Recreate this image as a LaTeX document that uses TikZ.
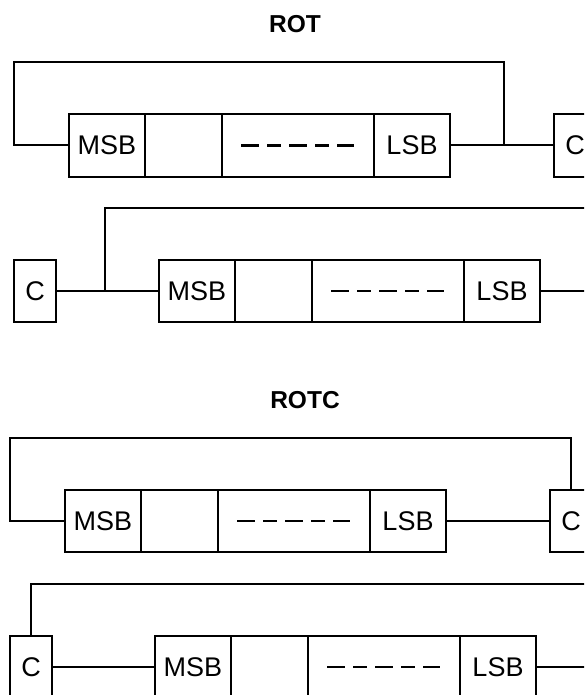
\documentclass[tikz,border=0pt]{standalone}
\usepackage{fontspec}
\setmainfont{Liberation Sans}
\begin{document}
\begin{tikzpicture}[x=1pt,y=-1pt,
  wire/.style={line width=2pt},
  cell/.style={draw, line width=2pt, minimum height=62pt, inner sep=0pt, outer sep=0pt, anchor=west, font=\fontsize{27}{30}\selectfont},
  cbox/.style={draw, line width=2pt, minimum width=42pt, minimum height=62pt, inner sep=0pt, outer sep=0pt, font=\fontsize{27}{30}\selectfont},
  title/.style={font=\bfseries\fontsize{24.5}{28}\selectfont},
  dashes/.style={line width=2.5pt, dash pattern=on 18pt off 8pt on 14pt off 8pt on 18pt off 8pt on 14pt off 8pt on 17pt}]
\useasboundingbox (0,0) rectangle (584,695);
\clip (0,0) rectangle (584,695);
\fill[white] (0,0) rectangle (584,695);

% ---------- ROT ----------
\node[title] (t1) at (295,24) {ROT};

% row 1
\node[cell, minimum width=76pt] (r1a) at (69,145.5) {MSB};
\node[cell, minimum width=77pt] (r1b) at (r1a.east) {};
\node[cell, minimum width=152pt] (r1c) at (r1b.east) {};
\node[cell, minimum width=76pt] (r1d) at (r1c.east) {LSB};
\node[cbox] (c1) at (575,145.5) {C};
\draw[dashes] ([xshift=19pt]r1c.west) -- ([xshift=-17pt]r1c.east);
\coordinate (j1) at (504,145.5);
\coordinate (l1) at (14,62);
\draw[wire] (r1d.east) -- (c1.west);
\draw[wire] (j1) |- (l1) |- (r1a.west);

% row 2
\node[cbox] (c2) at (35,291) {C};
\node[cell, minimum width=76pt] (r2a) at (159,291) {MSB};
\node[cell, minimum width=77pt] (r2b) at (r2a.east) {};
\node[cell, minimum width=152pt] (r2c) at (r2b.east) {};
\node[cell, minimum width=76pt] (r2d) at (r2c.east) {LSB};
\draw[dashes] ([xshift=19pt]r2c.west) -- ([xshift=-17pt]r2c.east);
\coordinate (j2) at (105,291);
\coordinate (t2) at (600,208);
\coordinate (e2) at (600,291);
\draw[wire] (c2.east) -- (r2a.west);
\draw[wire] (j2) |- (t2);
\draw[wire] (r2d.east) -- (e2);

% ---------- ROTC ----------
\node[title] (t2t) at (305,400) {ROTC};

% row 3
\node[cell, minimum width=76pt] (r3a) at (65,521) {MSB};
\node[cell, minimum width=77pt] (r3b) at (r3a.east) {};
\node[cell, minimum width=152pt] (r3c) at (r3b.east) {};
\node[cell, minimum width=76pt] (r3d) at (r3c.east) {LSB};
\node[cbox] (c3) at (571,521) {C};
\draw[dashes] ([xshift=19pt]r3c.west) -- ([xshift=-17pt]r3c.east);
\coordinate (l3) at (10,438);
\draw[wire] (r3d.east) -- (c3.west);
\draw[wire] (c3.north) |- (l3) |- (r3a.west);

% row 4
\node[cbox] (c4) at (31,667) {C};
\node[cell, minimum width=76pt] (r4a) at (155,667) {MSB};
\node[cell, minimum width=77pt] (r4b) at (r4a.east) {};
\node[cell, minimum width=152pt] (r4c) at (r4b.east) {};
\node[cell, minimum width=76pt] (r4d) at (r4c.east) {LSB};
\draw[dashes] ([xshift=19pt]r4c.west) -- ([xshift=-17pt]r4c.east);
\coordinate (t4) at (600,584);
\coordinate (e4) at (600,667);
\draw[wire] (c4.east) -- (r4a.west);
\draw[wire] (c4.north) |- (t4);
\draw[wire] (r4d.east) -- (e4);
\end{tikzpicture}
\end{document}
